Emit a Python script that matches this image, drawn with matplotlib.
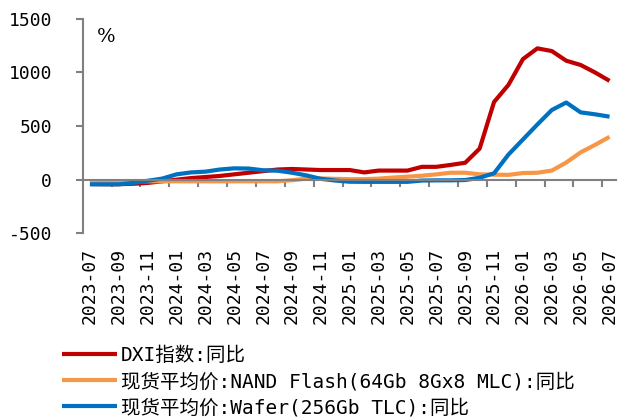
import matplotlib
matplotlib.use("Agg")
import matplotlib.pyplot as plt
from matplotlib.ticker import FixedLocator

plt.rcParams['font.family'] = ['DejaVu Sans Mono', 'Noto Sans CJK SC']
plt.rcParams['axes.unicode_minus'] = False

months = ['2023-07', '2023-08', '2023-09', '2023-10', '2023-11', '2023-12',
          '2024-01', '2024-02', '2024-03', '2024-04', '2024-05', '2024-06',
          '2024-07', '2024-08', '2024-09', '2024-10', '2024-11', '2024-12',
          '2025-01', '2025-02', '2025-03', '2025-04', '2025-05', '2025-06',
          '2025-07', '2025-08', '2025-09', '2025-10', '2025-11', '2025-12',
          '2026-01', '2026-02', '2026-03', '2026-04', '2026-05', '2026-06',
          '2026-07']

dxi = [-40, -42, -42, -38, -30, -15, 0, 15, 25, 35, 50, 65, 80, 95, 100, 95,
       90, 90, 90, 68, 85, 85, 85, 120, 120, 138, 158, 290, 725, 885, 1125,
       1225, 1200, 1110, 1070, 1000, 922]
nand = [-15, -15, -15, -15, -15, -15, -15, -15, -15, -15, -15, -15, -15, -15,
        -5, 10, 12, 8, 5, 5, 10, 20, 28, 37, 50, 65, 65, 50, 47, 45, 62, 65,
        85, 160, 255, 325, 400]
wafer = [-43, -43, -43, -30, -10, 10, 50, 68, 75, 95, 106, 104, 88, 84, 65,
         40, 8, -8, -19, -20, -20, -20, -20, -8, -6, -6, -3, 18, 60, 235, 375,
         515, 650, 720, 628, 610, 588]

names = ['DXI指数:同比',
         '现货平均价:NAND Flash(64Gb 8Gx8 MLC):同比',
         '现货平均价:Wafer(256Gb TLC):同比']
colors = ['#C00000', '#F79646', '#0070C0']
yticks = [-500, 0, 500, 1000, 1500]

fig = plt.figure(figsize=(6.18, 4.19), dpi=100)
ax = fig.add_axes([0.1348, 0.4432, 0.862, 0.5117])

x = list(range(len(months)))
lines = []
for vals, c, n in zip([dxi, nand, wafer], colors, names):
    ln, = ax.plot(x, vals, color=c, lw=3.0, label=n, solid_capstyle='butt')
    lines.append(ln)

ax.set_xlim(-0.46, 36.45)
ax.set_ylim(-500, 1500)
ax.set_yticks(yticks)
ax.set_yticklabels([str(v) for v in yticks])

ax.spines['top'].set_visible(False)
ax.spines['right'].set_visible(False)
ax.spines['bottom'].set_position(('data', 0))
for s in ['left', 'bottom']:
    ax.spines[s].set_color('#808080')
    ax.spines[s].set_linewidth(1.5)

major = x[::2]
ax.xaxis.set_major_locator(FixedLocator(major))
ax.set_xticklabels(months[::2], rotation=90)
ax.xaxis.set_minor_locator(FixedLocator([i + 1.5 for i in range(0, 35, 2)]))
ax.tick_params(axis='x', which='major', length=0, pad=49, labelsize=13)
ax.tick_params(axis='x', which='minor', length=5, width=1.5, color='#808080',
               direction='out')
ax.tick_params(axis='y', length=5, width=1.5, color='#808080', direction='out',
               pad=17.5, labelsize=13)

ax.text(0.026, 0.958, '%', transform=ax.transAxes, ha='left', va='top',
        fontsize=14, family='DejaVu Serif')

fig.legend(handles=lines, loc='upper left', bbox_to_anchor=(0.1, 0.174),
           frameon=False, fontsize=14, handlelength=2.83, handletextpad=0.2,
           labelspacing=0.36, borderpad=0, borderaxespad=0)

fig.savefig('out.png', dpi=100)
